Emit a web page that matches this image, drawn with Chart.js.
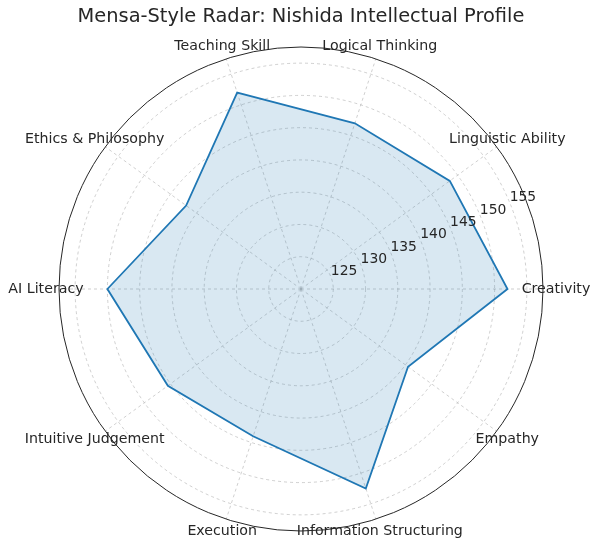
<!DOCTYPE html>
<html>
<head>
<meta charset="utf-8">
<script src="https://cdn.jsdelivr.net/npm/chart.js@4"></script>
<style>
  html, body { margin: 0; padding: 0; background: #fff; }
  #wrap { width: 600px; height: 548px; }
</style>
</head>
<body>
<div id="wrap"><canvas id="radar"></canvas></div>
<script>
// categories in matplotlib order (counter-clockwise from the right)
const categories = ['Creativity', 'Linguistic Ability', 'Logical Thinking', 'Teaching Skill',
    'Ethics & Philosophy', 'AI Literacy', 'Intuitive Judgement', 'Execution',
    'Information Structuring', 'Empathy'];
const scores = [152, 148.5, 147, 152, 142, 150, 145.5, 144, 152.5, 140.5];
const tickValues = [125, 130, 135, 140, 145, 150, 155];
const rMin = 120;
const rMax = 157.5;

const FONT = "'DejaVu Sans', sans-serif";

// Chart.js runs clockwise, so keep the first item and flip the rest
const order = [0].concat(categories.map((_, i) => i).slice(1).reverse());
const labels = order.map(i => categories[i]);
const values = order.map(i => scores[i]);

// -----------------------------
// Title, outer ring, tick labels and category labels
// -----------------------------
const decorPlugin = {
    id: 'decor',
    beforeDatasetsDraw(chart) {
        const s = chart.scales.r;
        const ctx = chart.ctx;
        ctx.save();
        ctx.beginPath();
        ctx.arc(s.xCenter, s.yCenter, s.drawingArea, 0, Math.PI * 2);
        ctx.strokeStyle = '#262626';
        ctx.lineWidth = 1;
        ctx.stroke();
        ctx.restore();
    },
    afterDraw(chart) {
        const s = chart.scales.r;
        const ctx = chart.ctx;
        ctx.save();
        ctx.fillStyle = '#262626';

        // radial tick labels at 22.5 degrees
        ctx.font = '13.9px ' + FONT;
        ctx.textAlign = 'left';
        ctx.textBaseline = 'bottom';
        const a = 22.5 * Math.PI / 180;
        tickValues.forEach(v => {
            const d = s.getDistanceFromCenterForValue(v);
            ctx.fillText(String(v), s.xCenter + d * Math.cos(a), s.yCenter - d * Math.sin(a) + 2);
        });

        // category labels
        ctx.font = '14.2px ' + FONT;
        ctx.textAlign = 'center';
        ctx.textBaseline = 'middle';
        labels.forEach((lab, i) => {
            const p = s.getPointPosition(i, s.drawingArea + 13);
            ctx.fillText(lab, p.x, p.y);
        });

        // title
        ctx.font = '19.4px ' + FONT;
        ctx.fillText('Mensa-Style Radar: Nishida Intellectual Profile', 301, 17);
        ctx.restore();
    }
};

const gridGray = 'rgba(170,170,170,0.7)';

new Chart(document.getElementById('radar'), {
    type: 'radar',
    data: {
        labels: labels,
        datasets: [{
            data: values,
            borderColor: '#1f77b4',
            borderWidth: 1.8,
            backgroundColor: 'rgba(31,119,180,0.17)',
            fill: true,
            pointRadius: 0,
            tension: 0
        }]
    },
    options: {
        responsive: true,
        maintainAspectRatio: false,
        animation: false,
        layout: { padding: { left: 59, right: 57, top: 47, bottom: 17 } },
        plugins: { legend: { display: false }, title: { display: false }, tooltip: { enabled: false } },
        scales: {
            r: {
                min: rMin,
                max: rMax,
                startAngle: 90,
                ticks: { display: false, stepSize: 5, includeBounds: false },
                pointLabels: { display: false },
                grid: { circular: true, color: gridGray, lineWidth: 0.8 },
                border: { dash: [3, 3] },
                angleLines: { color: gridGray, lineWidth: 0.8, borderDash: [3, 3] }
            }
        }
    },
    plugins: [decorPlugin]
});
</script>
</body>
</html>
